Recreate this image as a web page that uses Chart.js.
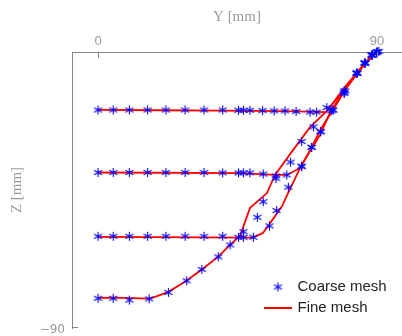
<!DOCTYPE html>
<html>
<head>
<meta charset="utf-8">
<script src="https://cdn.jsdelivr.net/npm/chart.js@4"></script>
<style>
  html, body { margin: 0; padding: 0; background: #fff; }
  #c { display: block; }
</style>
</head>
<body>
<canvas id="c" width="402" height="336"></canvas>
<script>
// ---------- data (Y [mm], Z [mm]) ----------
const xTicks = [0, 90];
const yTicks = [-90];

// Coarse mesh, four lines
const coarseY1 = [0, 4.9, 10.1, 16.0, 21.9, 28.1, 34.2, 40.2, 45.3, 46.9, 49.0, 53.1, 56.8, 60.3, 63.9, 68.4, 70.5, 75.2, 79.4, 83.5, 86.1, 88.4, 90.0];
const coarseZ1 = [-18.9, -18.9, -18.9, -18.9, -18.9, -18.9, -18.9, -18.9, -19.0, -19.0, -19.0, -19.1, -19.2, -19.2, -19.4, -19.6, -19.6, -19.2, -12.7, -6.9, -3.6, -1.0, 0.0];

const coarseY2 = [0, 4.9, 10.1, 16.0, 21.9, 28.1, 34.2, 40.2, 45.3, 46.9, 49.0, 53.3, 57.4, 60.9, 65.7, 68.9, 71.8, 75.8, 79.7, 83.6, 86.1, 88.4, 90.6];
const coarseZ2 = [-39.3, -39.3, -39.3, -39.3, -39.3, -39.3, -39.3, -39.4, -39.4, -39.4, -39.4, -39.8, -40.4, -40.1, -37.2, -31.1, -26.0, -18.9, -12.7, -6.9, -3.6, -1.0, 0.2];

const coarseY3 = [0, 4.9, 10.1, 16.0, 21.9, 28.1, 34.2, 40.2, 45.3, 46.9, 50.1, 55.3, 57.6, 61.4, 65.7, 68.9, 71.8, 75.8, 79.4, 83.5, 86.1, 88.4, 90.0];
const coarseZ3 = [-60.1, -60.1, -60.1, -60.1, -60.1, -60.1, -60.1, -60.1, -60.4, -60.4, -60.4, -56.7, -51.7, -44.1, -37.4, -31.1, -26.0, -18.9, -13.4, -6.9, -3.6, -1.0, 0.1];

const coarseY4 = [0, 4.9, 10.1, 16.5, 22.7, 28.6, 33.5, 38.8, 42.6, 46.9, 51.4, 53.3, 57.4, 62.1, 65.7, 69.5, 73.8, 79.4, 83.5, 86.1, 88.3, 89.9];
const coarseZ4 = [-80.3, -80.3, -80.9, -80.5, -78.4, -74.6, -70.9, -66.8, -62.9, -58.6, -53.9, -48.8, -41.2, -35.9, -29.2, -24.4, -18.1, -13.4, -6.9, -3.6, -1.0, -0.2];

// Fine mesh, four lines
const fineY1 = [0, 20, 40, 60, 73.5, 79.5, 83.6, 86.5, 90.3];
const fineZ1 = [-18.9, -19.0, -19.1, -19.3, -19.6, -12.0, -6.9, -3.5, 0.1];

const fineY2 = [0, 45.8, 57.1, 61.0, 65.2, 68.4, 71.6, 74.8, 79.4, 83.5, 86.1, 88.4, 90.6];
const fineZ2 = [-39.3, -39.5, -40.1, -40.1, -37.8, -32.3, -27.1, -19.9, -12.4, -7.0, -3.7, -1.1, 0.2];

const fineY3 = [0, 50.0, 53.2, 55.5, 59.3, 61.3, 65.2, 68.4, 72.2, 75.8, 79.7, 83.5, 86.1, 88.4, 90.6];
const fineZ3 = [-60.3, -60.5, -59.0, -55.8, -50.4, -46.0, -37.8, -32.0, -24.5, -18.9, -12.4, -7.2, -3.9, -1.3, 0.2];

const fineY4 = [0, 4.8, 16.8, 22.6, 28.4, 33.5, 38.7, 43.2, 45.8, 49.0, 54.5, 57.1, 62.9, 68.4, 74.2, 79.4, 83.5, 86.1, 88.4, 90.6];
const fineZ4 = [-80.2, -80.1, -80.4, -78.3, -74.7, -70.9, -66.8, -62.3, -60.0, -50.9, -46.0, -40.1, -32.0, -24.5, -18.9, -11.7, -6.8, -3.6, -1.1, 0.2];

const coarseLabel = 'Coarse mesh';
const fineLabel = 'Fine mesh';

// ---------- helpers ----------
const BLUE = '#0000ff';
const RED = '#ff0000';
const GRAY_AXIS = '#858585';
const GRAY_TEXT = '#9a9a9a';

function pts(xs, ys) { return xs.map((x, i) => ({ x: x, y: ys[i] })); }

function makeAsterisk(color, r, lw) {
  const s = Math.ceil(2 * r + 3);
  const c = document.createElement('canvas');
  c.width = s; c.height = s;
  const g = c.getContext('2d');
  g.strokeStyle = color; g.lineWidth = lw;
  const cx = s / 2, cy = s / 2;
  g.beginPath();
  [90, 30, 150].forEach(a => {
    const t = a * Math.PI / 180;
    g.moveTo(cx - r * Math.cos(t), cy - r * Math.sin(t));
    g.lineTo(cx + r * Math.cos(t), cy + r * Math.sin(t));
  });
  g.stroke();
  return c;
}
const star = makeAsterisk(BLUE, 4.6, 1.1);

const coarseSets = [[coarseY1, coarseZ1], [coarseY2, coarseZ2], [coarseY3, coarseZ3], [coarseY4, coarseZ4]];
const fineSets = [[fineY1, fineZ1], [fineY2, fineZ2], [fineY3, fineZ3], [fineY4, fineZ4]];

const datasets = [];
coarseSets.forEach(s => datasets.push({
  label: coarseLabel, data: pts(s[0], s[1]), showLine: false,
  pointStyle: star, pointRadius: 5, borderColor: BLUE, backgroundColor: BLUE, clip: false
}));
fineSets.forEach(s => datasets.push({
  label: fineLabel, data: pts(s[0], s[1]), showLine: true,
  pointRadius: 0, borderColor: RED, borderWidth: 1.8, tension: 0, fill: false, clip: false
}));

// inward tick marks + legend
const decor = {
  id: 'decor',
  afterDraw(chart) {
    const ctx = chart.ctx, ca = chart.chartArea;
    const xs = chart.scales.x, ys = chart.scales.y;
    ctx.save();
    ctx.strokeStyle = GRAY_AXIS; ctx.lineWidth = 1;
    ctx.beginPath();
    xs.ticks.forEach(t => {
      const px = Math.round(xs.getPixelForValue(t.value)) + 0.5;
      ctx.moveTo(px, ca.top); ctx.lineTo(px, ca.top + 6);
    });
    ys.ticks.forEach(t => {
      const py = Math.round(ys.getPixelForValue(t.value)) - 0.5;
      ctx.moveTo(ca.left, py); ctx.lineTo(ca.left + 6, py);
    });
    ctx.stroke();

    // legend
    const lx = ca.right - 124, ly1 = ca.bottom - 41, ly2 = ca.bottom - 20;
    ctx.drawImage(star, lx - star.width / 2, ly1 - star.height / 2);
    ctx.strokeStyle = RED; ctx.lineWidth = 2;
    ctx.beginPath(); ctx.moveTo(lx - 14, ly2); ctx.lineTo(lx + 14, ly2); ctx.stroke();
    ctx.fillStyle = '#222';
    ctx.font = '15px "Liberation Sans", Arial, sans-serif';
    ctx.textBaseline = 'middle'; ctx.textAlign = 'left';
    ctx.fillText(coarseLabel, lx + 19.5, ly1);
    ctx.fillText(fineLabel, lx + 19.5, ly2);
    ctx.restore();
  }
};

new Chart(document.getElementById('c'), {
  type: 'scatter',
  data: { datasets },
  plugins: [decor],
  options: {
    responsive: false,
    animation: false,
    layout: { autoPadding: false, padding: { left: 0, right: 0, top: 0, bottom: 8 } },
    plugins: { legend: { display: false }, tooltip: { enabled: false } },
    scales: {
      x: {
        type: 'linear', position: 'top', min: -8.39, max: 98.06,
        afterBuildTicks: s => { s.ticks = xTicks.map(v => ({ value: v })); },
        afterFit: s => { s.height = 52; s.paddingLeft = 0; s.paddingRight = 0; },
        grid: { display: false, drawTicks: false },
        border: { display: true, color: GRAY_AXIS, width: 1 },
        ticks: { padding: 3, color: GRAY_TEXT, autoSkip: false, maxRotation: 0,
                 font: { family: '"Liberation Sans", Arial, sans-serif', size: 13 } },
        title: { display: true, text: 'Y [mm]', color: GRAY_TEXT, padding: { top: 8, bottom: 0 },
                 font: { family: '"Liberation Serif", serif', size: 15 } }
      },
      y: {
        type: 'linear', position: 'left', min: -90, max: 0,
        afterBuildTicks: s => { s.ticks = yTicks.map(v => ({ value: v })); },
        afterFit: s => { s.width = 72; s.paddingTop = 0; s.paddingBottom = 0; },
        grid: { display: false, drawTicks: true, tickLength: 7 },
        border: { display: true, color: GRAY_AXIS, width: 1 },
        ticks: { padding: 0, labelOffset: 2, color: GRAY_TEXT, autoSkip: false,
                 callback: v => (v < 0 ? '\u2212' + Math.abs(v) : String(v)),
                 font: { family: '"DejaVu Sans", sans-serif', size: 12 } },
        title: { display: true, text: 'Z [mm]', color: GRAY_TEXT, padding: { top: 8, bottom: 0 },
                 font: { family: '"Liberation Serif", serif', size: 15 } }
      }
    }
  }
});
</script>
</body>
</html>
